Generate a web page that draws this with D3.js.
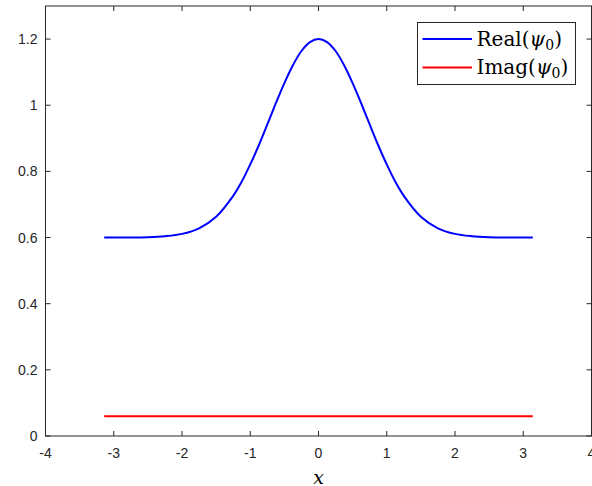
<!DOCTYPE html>
<html>
<head>
<meta charset="utf-8">
<script src="https://cdn.jsdelivr.net/npm/d3@7"></script>
<style>
  html, body { margin: 0; padding: 0; background: #fff; }
  svg { display: block; }
</style>
</head>
<body>
<div id="chart"></div>
<script>
// values
const xSamples = [-3.14, -3, -2.75, -2.5, -2.25, -2, -1.75, -1.5, -1.25, -1.125, -1, -0.875, -0.75, -0.625,
                  -0.5, -0.375, -0.25, -0.125, 0, 0.125, 0.25, 0.375, 0.5, 0.625, 0.75, 0.875, 1, 1.125,
                  1.25, 1.5, 1.75, 2, 2.25, 2.5, 2.75, 3, 3.14];
const realPsi = [0.600, 0.600, 0.600, 0.601, 0.604, 0.611, 0.628, 0.663, 0.726, 0.769, 0.821, 0.879, 0.942, 1.006,
                 1.067, 1.121, 1.164, 1.191, 1.200, 1.191, 1.164, 1.121, 1.067, 1.006, 0.942, 0.879, 0.821, 0.769,
                 0.726, 0.663, 0.628, 0.611, 0.604, 0.601, 0.600, 0.600, 0.600];
// the red line sits flat at about 0.06 over the same span
const imagX = [-3.14, 3.14];
const imagPsi = [0.06, 0.06];
const xTicks = [-4, -3, -2, -1, 0, 1, 2, 3, 4];
const yTicks = [0, 0.2, 0.4, 0.6, 0.8, 1, 1.2];
const seriesNames = ["Real", "Imag"];
const seriesColors = ["#0000ff", "#ff0000"];

const width = 592, height = 486;
const margin = {top: 6, right: 0.5, bottom: 50, left: 45.5};
const axisColor = "#262626";

const svg = d3.select("#chart").append("svg")
  .attr("width", width)
  .attr("height", height);

const x = d3.scaleLinear().domain([-4, 4]).range([margin.left, width - margin.right]);
const y = d3.scaleLinear().domain([0, 1.3]).range([height - margin.bottom, margin.top]);

const tickFont = "'Liberation Sans', Arial, sans-serif";
const mathFont = "'DejaVu Serif', 'Liberation Serif', serif";

// box
svg.append("rect")
  .attr("x", x(-4)).attr("y", y(1.3))
  .attr("width", x(4) - x(-4)).attr("height", y(0) - y(1.3))
  .attr("fill", "none").attr("stroke", axisColor).attr("stroke-width", 1);

// ticks (inside, like MATLAB)
const tickLen = 5;
const ticks = svg.append("g").attr("stroke", axisColor).attr("stroke-width", 1);
xTicks.forEach(t => {
  ticks.append("line").attr("x1", x(t)).attr("x2", x(t)).attr("y1", y(0)).attr("y2", y(0) - tickLen);
  ticks.append("line").attr("x1", x(t)).attr("x2", x(t)).attr("y1", y(1.3)).attr("y2", y(1.3) + tickLen);
});
yTicks.forEach(t => {
  ticks.append("line").attr("x1", x(-4)).attr("x2", x(-4) + tickLen).attr("y1", y(t)).attr("y2", y(t));
  ticks.append("line").attr("x1", x(4)).attr("x2", x(4) - tickLen).attr("y1", y(t)).attr("y2", y(t));
});

svg.append("g").selectAll("text")
  .data(xTicks).enter().append("text")
  .attr("x", d => x(d)).attr("y", y(0) + 22)
  .attr("text-anchor", "middle")
  .attr("font-family", tickFont).attr("font-size", 14)
  .attr("fill", axisColor)
  .text(d => d);

svg.append("g").selectAll("text")
  .data(yTicks).enter().append("text")
  .attr("x", x(-4) - 8).attr("y", d => y(d) + 5)
  .attr("text-anchor", "end")
  .attr("font-family", tickFont).attr("font-size", 14)
  .attr("fill", axisColor)
  .text(d => d);

// x label
svg.append("text")
  .attr("x", x(0)).attr("y", 484)
  .attr("text-anchor", "middle")
  .attr("font-family", mathFont)
  .attr("font-style", "italic").attr("font-size", 19)
  .attr("fill", "#000")
  .text("x");

// lines
const line = d3.line()
  .x(d => x(d[0]))
  .y(d => y(d[1]))
  .curve(d3.curveCatmullRom);

[[xSamples, realPsi], [imagX, imagPsi]].forEach(([xs, vals], i) => {
  svg.append("path")
    .datum(xs.map((xv, j) => [xv, vals[j]]))
    .attr("d", line)
    .attr("fill", "none")
    .attr("stroke", seriesColors[i])
    .attr("stroke-width", 2);
});

// legend
const legend = svg.append("g");
legend.append("rect")
  .attr("x", 417.5).attr("y", 22.5).attr("width", 158).attr("height", 62)
  .attr("fill", "#fff").attr("stroke", axisColor).attr("stroke-width", 1);

seriesNames.forEach((name, i) => {
  const cy = 39 + i * 28.5;
  legend.append("line")
    .attr("x1", 422.5).attr("x2", 472).attr("y1", cy).attr("y2", cy)
    .attr("stroke", seriesColors[i]).attr("stroke-width", 2);
  const t = legend.append("text")
    .attr("x", 476.5).attr("y", cy + 6.5)
    .attr("font-family", mathFont)
    .attr("font-size", 20).attr("fill", "#000");
  t.append("tspan").text(name + "(");
  t.append("tspan").attr("font-style", "italic").text("\u03C8");
  t.append("tspan").attr("font-size", 14).attr("dy", 4).text("0");
  t.append("tspan").attr("dy", -4).text(")");
});
</script>
</body>
</html>
